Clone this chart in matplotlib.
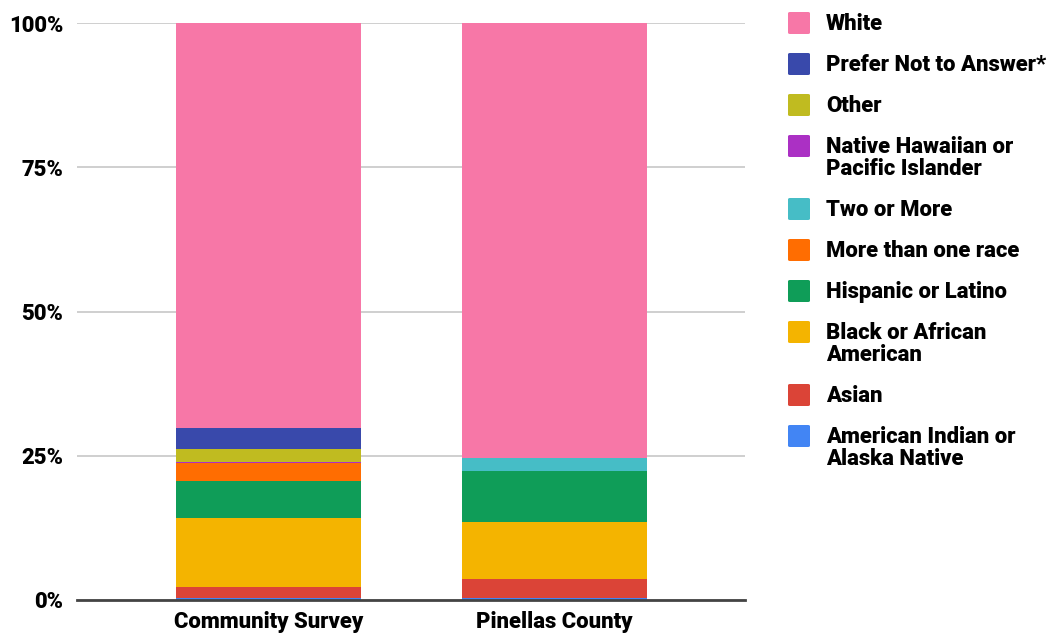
import numpy as np
import matplotlib.pyplot as plt
from matplotlib.patches import FancyBboxPatch
from matplotlib.ticker import FuncFormatter

plt.rcParams['font.family'] = ['Roboto', 'DejaVu Sans']

# grupy na osi x
groups = ['Community Survey', 'Pinellas County']

# kategorie od dolu do gory slupka
categories = ['American Indian or\nAlaska Native', 'Asian', 'Black or African\nAmerican',
              'Hispanic or Latino', 'More than one race', 'Two or More',
              'Native Hawaiian or\nPacific Islander', 'Other', 'Prefer Not to Answer*', 'White']
colors = ['#4285F4', '#DB4437', '#F4B400', '#0F9D58', '#FF6D01', '#46BDC6',
          '#AB30C4', '#C0BB20', '#3949AB', '#F777A7']

# udzialy procentowe
community = [0.3, 2.0, 11.9, 6.5, 3.1, 0.0, 0.2, 2.2, 3.6, 70.2]
pinellas = [0.4, 3.2, 10.0, 8.7, 0.0, 2.3, 0.0, 0.0, 0.0, 75.4]

FS = 15.8
WEIGHT = 'heavy'

fig = plt.figure(figsize=(10.49, 6.35), dpi=100)
ax = fig.add_axes([77 / 1049, 1 - 600 / 635, (745 - 77) / 1049, 577 / 635])

x = np.arange(len(groups))
bottom = np.zeros(len(groups))
for i, name in enumerate(categories):
    vals = np.array([community[i], pinellas[i]]) / 100
    ax.bar(x, vals, 0.647, bottom=bottom, color=colors[i], linewidth=0, zorder=3)
    bottom += vals

ax.set_xlim(-0.67, 1.666)
ax.set_ylim(0, 1)
ax.set_yticks([0, 0.25, 0.5, 0.75, 1.0])
ax.yaxis.set_major_formatter(FuncFormatter(lambda v, p: '%d%%' % round(v * 100)))
ax.set_xticks(x)
ax.set_xticklabels(groups)
ax.tick_params(axis='y', length=0, pad=10, labelsize=FS, labelcolor='black')
ax.tick_params(axis='x', length=0, pad=8, labelsize=FS, labelcolor='black')
for lbl in ax.get_xticklabels() + ax.get_yticklabels():
    lbl.set_fontweight(WEIGHT)

ax.grid(axis='y', color='#cccccc', linewidth=1.3, zorder=0)
ax.set_axisbelow(True)
for s in ['top', 'right', 'left']:
    ax.spines[s].set_visible(False)
ax.spines['bottom'].set_color('#444444')
ax.spines['bottom'].set_linewidth(2)
ax.spines['bottom'].set_zorder(4)

# legenda po prawej stronie, od White w dol
W, H = 1049, 635
legend_rows = [12, 53, 94, 135, 198, 239, 280, 321, 384, 425]
for top, i in zip(legend_rows, range(len(categories) - 1, -1, -1)):
    sq = FancyBboxPatch((788 / W, 1 - (top + 22) / H), 22 / W, 22 / H,
                        boxstyle='round,pad=0,rounding_size=0.002',
                        transform=fig.transFigure, facecolor=colors[i],
                        edgecolor='none')
    fig.add_artist(sq)
    fig.text(826 / W, 1 - (top + 1) / H, categories[i], fontsize=FS,
             fontweight=WEIGHT, va='top', ha='left', linespacing=1.0,
             transform=fig.transFigure)

fig.savefig('out.png', dpi=100)
